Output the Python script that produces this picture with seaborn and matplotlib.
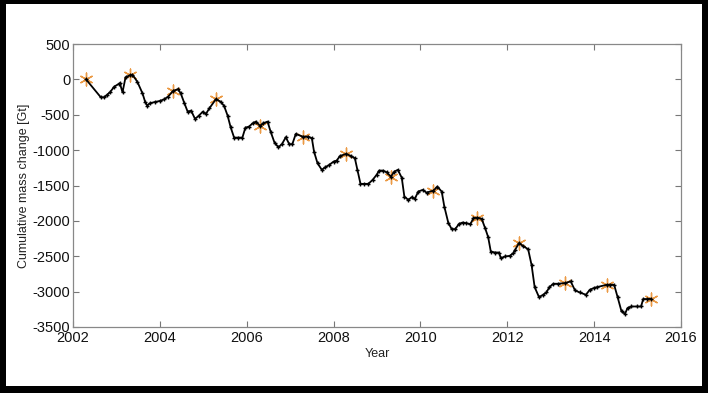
import matplotlib
matplotlib.use("Agg")
import matplotlib.pyplot as plt
import seaborn as sns
import pandas as pd
from matplotlib.patches import Rectangle

# Monthly cumulative mass change (Gt)
years = [2002.30, 2002.64, 2002.72, 2002.78, 2002.85, 2002.95, 2003.05, 2003.08, 2003.14, 2003.21,
         2003.31, 2003.37, 2003.48, 2003.60, 2003.66, 2003.71, 2003.77, 2003.89, 2004.00, 2004.10,
         2004.19, 2004.31, 2004.42, 2004.48, 2004.56, 2004.64, 2004.72, 2004.81, 2004.89, 2004.99,
         2005.06, 2005.14, 2005.29, 2005.40, 2005.48, 2005.56, 2005.63, 2005.71, 2005.81, 2005.90,
         2005.97, 2006.05, 2006.14, 2006.21, 2006.31, 2006.38, 2006.48, 2006.55, 2006.64, 2006.73,
         2006.81, 2006.90, 2006.98, 2007.05, 2007.13, 2007.29, 2007.42, 2007.50, 2007.55, 2007.63,
         2007.73, 2007.81, 2007.90, 2008.00, 2008.07, 2008.15, 2008.29, 2008.40, 2008.49, 2008.55,
         2008.62, 2008.71, 2008.80, 2008.90, 2008.99, 2009.05, 2009.14, 2009.22, 2009.32, 2009.40,
         2009.48, 2009.57, 2009.63, 2009.72, 2009.80, 2009.87, 2009.95, 2010.05, 2010.14, 2010.30,
         2010.39, 2010.49, 2010.55, 2010.64, 2010.72, 2010.80, 2010.89, 2010.97, 2011.06, 2011.15,
         2011.22, 2011.31, 2011.41, 2011.49, 2011.56, 2011.62, 2011.72, 2011.81, 2011.85, 2011.95,
         2012.06, 2012.14, 2012.18, 2012.27, 2012.37, 2012.48, 2012.56, 2012.63, 2012.73, 2012.83,
         2012.90, 2012.97, 2013.06, 2013.16, 2013.33, 2013.46, 2013.56, 2013.67, 2013.81, 2013.90,
         2013.99, 2014.07, 2014.29, 2014.36, 2014.46, 2014.54, 2014.63, 2014.71, 2014.77, 2014.86,
         2014.98, 2015.08, 2015.13, 2015.22, 2015.31]
mass = [0, -253, -253, -220, -183, -103, -65, -56, -183, 30,
        58, 66, -32, -197, -315, -371, -338, -319, -305, -281,
        -244, -160, -140, -197, -329, -456, -442, -559, -517, -456,
        -489, -409, -281, -315, -376, -512, -677, -823, -823, -823,
        -682, -668, -620, -597, -658, -620, -597, -738, -894, -959,
        -916, -818, -916, -916, -771, -809, -809, -832, -1021, -1185,
        -1279, -1241, -1209, -1162, -1148, -1082, -1053, -1082, -1114, -1279,
        -1477, -1477, -1477, -1420, -1350, -1289, -1289, -1312, -1374, -1303,
        -1279, -1390, -1656, -1703, -1665, -1689, -1586, -1562, -1600, -1572,
        -1515, -1586, -1797, -2023, -2117, -2117, -2042, -2023, -2033, -2047,
        -1961, -1953, -1971, -2103, -2230, -2433, -2447, -2447, -2527, -2503,
        -2494, -2456, -2409, -2315, -2358, -2400, -2626, -2936, -3077, -3044,
        -3012, -2936, -2889, -2889, -2879, -2856, -2983, -3012, -3044, -2974,
        -2950, -2936, -2903, -2903, -2903, -3077, -3280, -3313, -3232, -3210,
        -3210, -3210, -3105, -3105, -3100]

# Annual reference points (orange asterisks)
ann_years = [2002.30, 2003.31, 2004.31, 2005.29, 2006.31, 2007.29, 2008.29,
             2009.32, 2010.30, 2011.31, 2012.27, 2013.33, 2014.29, 2015.31]
ann_mass = [0, 58, -160, -281, -658, -809, -1053,
            -1374, -1572, -1953, -2315, -2879, -2903, -3100]

xticks = [2002, 2004, 2006, 2008, 2010, 2012, 2014, 2016]
yticks = [500, 0, -500, -1000, -1500, -2000, -2500, -3000, -3500]

df = pd.DataFrame({"Year": years, "Mass": mass})
dfa = pd.DataFrame({"Year": ann_years, "Mass": ann_mass})

sns.set_style("white")
plt.rcParams["font.family"] = ["Liberation Sans", "DejaVu Sans"]

W, H = 708, 393
fig = plt.figure(figsize=(W / 100, H / 100), dpi=100, facecolor="black")
fig.patches.append(Rectangle((6 / W, 1 - 386 / H), (702 - 6) / W, (386 - 4) / H,
                             transform=fig.transFigure, facecolor="white",
                             edgecolor="none", zorder=-10))
ax = fig.add_axes([73 / W, 1 - 327 / H, (681 - 73) / W, (327 - 44) / H])
ax.set_zorder(5)
ax.set_facecolor("white")

sns.scatterplot(data=dfa, x="Year", y="Mass", ax=ax, marker=(6, 2, 0), s=85,
                color="#eb9a45", edgecolor="#eb9a45", linewidth=1.0, zorder=3,
                legend=False)
sns.lineplot(data=df, x="Year", y="Mass", ax=ax, color="black", linewidth=1.3,
             marker="+", markersize=3.2, markeredgewidth=1.0,
             markeredgecolor="black", zorder=4, legend=False)

ax.set_xlim(2002, 2016)
ax.set_ylim(-3500, 500)
ax.set_xticks(xticks)
ax.set_yticks(yticks)
ax.set_xticklabels([str(t) for t in xticks])
ax.set_yticklabels([str(t) for t in yticks])
ax.tick_params(direction="in", length=4, width=0.8, color="#777777",
               labelsize=10.5, labelcolor="#111111", top=True, right=True,
               bottom=True, left=True, pad=2)
ax.tick_params(axis="x", pad=3)
for s in ax.spines.values():
    s.set_visible(True)
    s.set_color("#888888")
    s.set_linewidth(0.9)
ax.set_xlabel("Year", fontsize=9, color="#222222", labelpad=2)
ax.set_ylabel("Cumulative mass change [Gt]", fontsize=9, color="#222222", labelpad=2)

fig.savefig("out.png", dpi=100, facecolor="black")
